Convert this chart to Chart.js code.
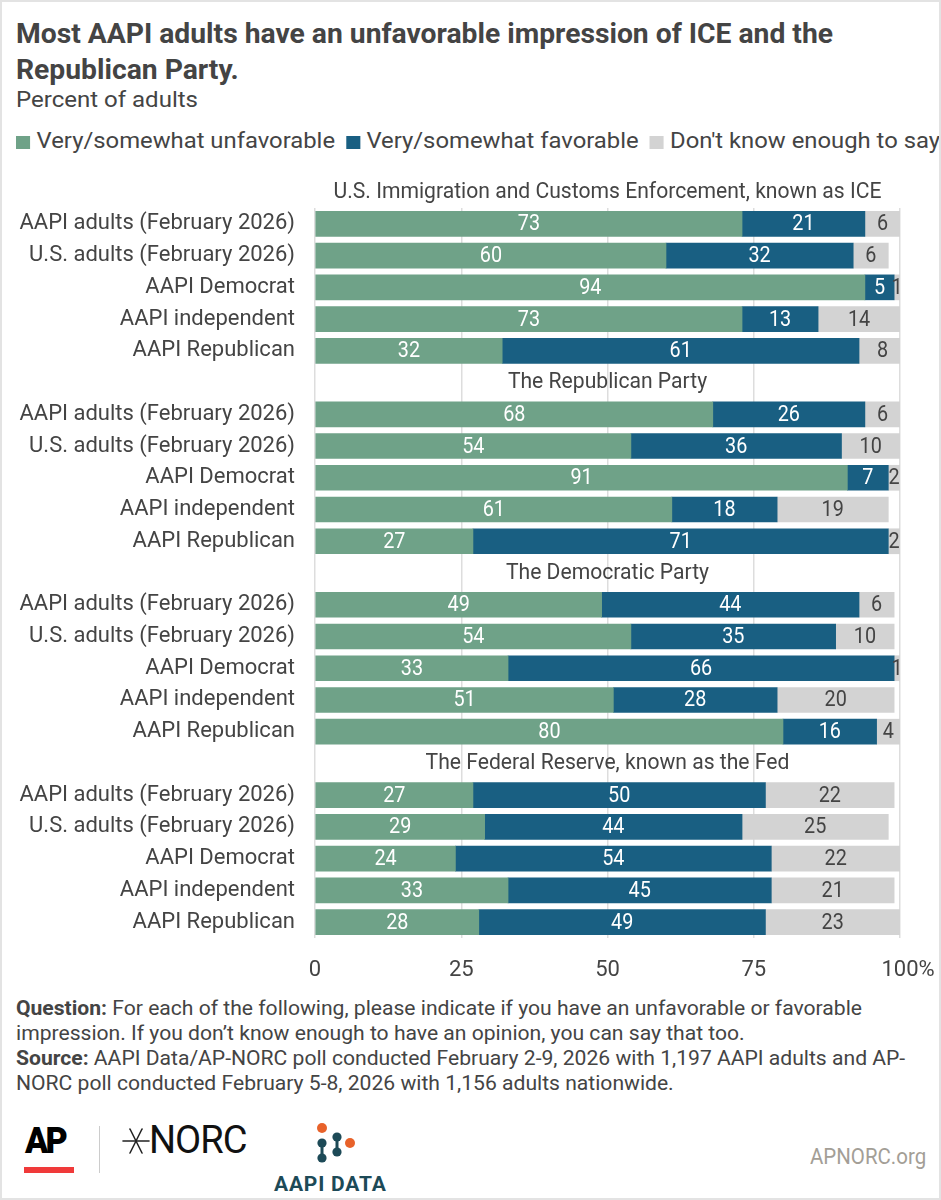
<!DOCTYPE html>
<html>
<head>
<meta charset="utf-8">
<script src="https://cdn.jsdelivr.net/npm/chart.js@4/dist/chart.umd.min.js"></script>
<style>
  html, body { margin: 0; padding: 0; background: #fff; }
  #wrap { position: relative; width: 941px; height: 1200px; overflow: hidden; background: #fff;
          box-sizing: border-box; border: 2px solid #e3e3e3; }
  .abs { position: absolute; white-space: nowrap; color: #444; font-family: Roboto, "Noto Sans", sans-serif; }
  .sc { transform-origin: 0 0; }
  #title { left: 14px; top: 14px; font-size: 27px; font-weight: 700; line-height: 36px; color: #444; }
  #subtitle { left: 14px; top: 85px; font-size: 22px; line-height: 26px; }
  #legend { left: 14px; top: 126px; font-size: 22px; line-height: 26px; }
  #legend .sw { display: inline-block; width: 13px; height: 13px; margin-right: 6px; vertical-align: -1px; }
  #legend .it { margin-left: 10px; }
  #legend .it:first-child { margin-left: 0; }
  #chartBox { position: absolute; left: 0; top: 160px; width: 941px; height: 830px; }
  #footer { left: 14px; top: 994px; font-size: 20px; line-height: 25px; }
  #footer b { font-weight: 700; }
</style>
</head>
<body>
<div id="wrap">
  <div id="title" class="abs sc" data-w="817">Most AAPI adults have an unfavorable impression of ICE and the<br>Republican Party.</div>
  <div id="subtitle" class="abs sc" data-w="182">Percent of adults</div>
  <div id="legend" class="abs sc" data-w="924"></div>
  <div id="chartBox"><canvas id="c"></canvas></div>
  <div id="footer" class="abs sc" data-w="846"><b>Question:</b> For each of the following, please indicate if you have an unfavorable or favorable<br>impression. If you don’t know enough to have an opinion, you can say that too.<br><b>Source:</b> AAPI Data/AP-NORC poll conducted February 2-9, 2026 with 1,197 AAPI adults and AP-<br>NORC poll conducted February 5-8, 2026 with 1,156 adults nationwide.</div>

  <!-- logos -->
  <div class="abs" style="left:23px;top:1120px;font-size:36px;font-weight:900;color:#000;letter-spacing:-3px;line-height:38px;transform:scaleX(0.95);transform-origin:0 0;">AP</div>
  <div style="position:absolute;left:22px;top:1165px;width:50px;height:6px;background:#f03a3a;"></div>
  <div style="position:absolute;left:97px;top:1124px;width:1px;height:47px;background:#ccc;"></div>
  <svg style="position:absolute;left:120px;top:1124px;" width="28" height="30" viewBox="0 0 28 30">
    <g stroke="#222" stroke-width="1.6" stroke-linecap="round">
      <line x1="1" y1="15" x2="27" y2="15"/>
      <line x1="8" y1="3" x2="20" y2="27"/>
      <line x1="20" y1="3" x2="8" y2="27"/>
    </g>
  </svg>
  <div class="abs" style="left:147px;top:1117px;font-size:38px;font-weight:400;color:#111;line-height:42px;letter-spacing:-1px;">NORC</div>
  <svg style="position:absolute;left:308px;top:1118px;" width="46" height="46" viewBox="0 0 46 46">
    <circle cx="12" cy="8" r="5" fill="#e8622a"/>
    <circle cx="12" cy="23" r="4.6" fill="#1d4a57"/>
    <circle cx="12" cy="38" r="4.6" fill="#1d4a57"/>
    <line x1="12" y1="23" x2="12" y2="38" stroke="#1d4a57" stroke-width="3"/>
    <circle cx="27" cy="17" r="4.6" fill="#1d4a57"/>
    <circle cx="27" cy="32" r="4.6" fill="#1d4a57"/>
    <line x1="27" y1="17" x2="27" y2="32" stroke="#1d4a57" stroke-width="3"/>
    <circle cx="40" cy="23" r="5" fill="#e8622a"/>
  </svg>
  <div class="abs" style="left:272px;top:1170px;font-size:21px;font-weight:700;color:#1d4a57;line-height:24px;letter-spacing:0.8px;">AAPI DATA</div>
  <div class="abs" style="left:808px;top:1142px;font-size:22px;color:#a39e96;line-height:26px;transform:scaleX(0.93);transform-origin:0 0;">APNORC.org</div>
</div>

<script>
// ---------------- DATA ----------------
const groupTitles = [
  "U.S. Immigration and Customs Enforcement, known as ICE",
  "The Republican Party",
  "The Democratic Party",
  "The Federal Reserve, known as the Fed"
];
const rowLabels = [
  "AAPI adults (February 2026)",
  "U.S. adults (February 2026)",
  "AAPI Democrat",
  "AAPI independent",
  "AAPI Republican"
];
const seriesNames = ["Very/somewhat unfavorable", "Very/somewhat favorable", "Don't know enough to say"];
// values listed group by group (ICE, Republican Party, Democratic Party, Fed), 5 rows each
const unfavorable = [73, 60, 94, 73, 32,  68, 54, 91, 61, 27,  49, 54, 33, 51, 80,  27, 29, 24, 33, 28];
const favorable   = [21, 32,  5, 13, 61,  26, 36,  7, 18, 71,  44, 35, 66, 28, 16,  50, 44, 54, 45, 49];
const dontKnow    = [ 6,  6,  1, 14,  8,   6, 10,  2, 19,  2,   6, 10,  1, 20,  4,  22, 25, 22, 21, 23];
const xTicks = [0, 25, 50, 75, 100];

const colors = ["#6fa288", "#195f82", "#d3d3d3"];
const labelColors = ["#ffffff", "#ffffff", "#444444"];

// ---------------- BUILD ----------------
// The first group's heading sits above the plot; later headings take a blank row.
const labels = [];
const headingRows = []; // {index, title}
const seriesRaw = [unfavorable, favorable, dontKnow];
const seriesData = [[], [], []];
groupTitles.forEach((t, g) => {
  if (g > 0) {
    headingRows.push({ index: labels.length, title: t });
    labels.push("");
    seriesData.forEach(s => s.push(null));
  } else {
    headingRows.push({ index: -1, title: t });
  }
  rowLabels.forEach((r, i) => {
    labels.push(r);
    seriesData.forEach((s, k) => s.push(seriesRaw[k][g * rowLabels.length + i]));
  });
});

// legend (HTML)
const legendEl = document.getElementById("legend");
legendEl.innerHTML = seriesNames.map((n, i) =>
  `<span class="it"><span class="sw" style="background:${colors[i]}"></span>${n}</span>`).join("");

// horizontally condense text blocks to match reference widths
document.querySelectorAll(".sc[data-w]").forEach(el => {
  const target = +el.dataset.w;
  let w;
  if (el.id === "legend") {
    w = el.getBoundingClientRect().width;
  } else {
    const tmp = document.createElement("span");
    tmp.style.whiteSpace = "nowrap";
    tmp.innerHTML = el.innerHTML.split("<br>")[0];
    tmp.style.font = getComputedStyle(el).font;
    tmp.style.position = "absolute"; tmp.style.visibility = "hidden";
    document.body.appendChild(tmp);
    w = tmp.getBoundingClientRect().width;
    tmp.remove();
  }
  if (w > 0) el.style.transform = `scaleX(${(target / w).toFixed(4)})`;
});

const FONT = "Roboto, 'Noto Sans', sans-serif";
const TICK_FONT = `22px ${FONT}`;

const headingPlugin = {
  id: "headings",
  afterDatasetsDraw(chart) {
    const { ctx, chartArea } = chart;
    const y = chart.scales.y;
    const step = y.getPixelForValue(1) - y.getPixelForValue(0);
    ctx.save();
    ctx.font = `22px ${FONT}`;
    ctx.fillStyle = "#444";
    ctx.textAlign = "center";
    ctx.textBaseline = "middle";
    const cx = (chartArea.left + chartArea.right) / 2;
    headingRows.forEach(h => {
      const py = h.index < 0 ? y.getPixelForValue(0) - step : y.getPixelForValue(h.index);
      ctx.save();
      ctx.translate(cx, py);
      ctx.scale(0.96, 1);
      ctx.fillText(h.title, 0, 0);
      ctx.restore();
    });
    ctx.restore();
  }
};

// "%" suffix placed after the last x tick (tick itself stays centred on its value)
const percentPlugin = {
  id: "percent",
  afterDraw(chart) {
    const { ctx } = chart;
    const xs = chart.scales.x;
    const items = xs._labelItems || [];
    const last = items.find(it => it.label === "100");
    if (!last) return;
    ctx.save();
    ctx.font = TICK_FONT;
    ctx.fillStyle = "#444";
    ctx.textAlign = "left";
    ctx.textBaseline = last.options.textBaseline || "middle";
    const w = ctx.measureText("100").width;
    const off = last.textOffset || 0;
    ctx.fillText("%", last.options.translation[0] + w / 2, last.options.translation[1] + off);
    ctx.restore();
  }
};

const valuePlugin = {
  id: "values",
  afterDatasetsDraw(chart) {
    const { ctx } = chart;
    ctx.save();
    ctx.font = `22px ${FONT}`;
    ctx.textAlign = "center";
    ctx.textBaseline = "middle";
    chart.data.datasets.forEach((ds, di) => {
      const meta = chart.getDatasetMeta(di);
      meta.data.forEach((el, i) => {
        const v = ds.data[i];
        if (v === null || v === undefined) return;
        const props = el.getProps(["x", "y", "base"], true);
        const cx = (props.x + props.base) / 2;
        ctx.fillStyle = labelColors[di];
        ctx.save();
        ctx.translate(cx, props.y + 1);
        ctx.scale(0.9, 1);
        ctx.fillText(String(v), 0, 0);
        ctx.restore();
      });
    });
    ctx.restore();
  }
};

new Chart(document.getElementById("c"), {
  type: "bar",
  data: {
    labels: labels,
    datasets: seriesData.map((d, i) => ({
      label: seriesNames[i],
      data: d,
      backgroundColor: colors[i],
      borderWidth: 0,
      barThickness: 25,
      categoryPercentage: 1,
      barPercentage: 1
    }))
  },
  options: {
    indexAxis: "y",
    responsive: true,
    maintainAspectRatio: false,
    animation: false,
    devicePixelRatio: 1,
    layout: { padding: { top: 46, right: 43, bottom: 0, left: 0 } },
    plugins: {
      legend: { display: false },
      tooltip: { enabled: false }
    },
    scales: {
      x: {
        stacked: true,
        min: 0, max: 100,
        afterBuildTicks(scale) { scale.ticks = xTicks.map(v => ({ value: v })); },
        afterFit(scale) { scale.height = 54; },
        border: { display: false },
        grid: { color: "#dddddd", lineWidth: 1.5, drawTicks: false },
        ticks: {
          padding: 19,
          color: "#444",
          font: { family: FONT, size: 22 },
          callback: (v) => String(v)
        }
      },
      y: {
        stacked: true,
        afterFit(scale) { scale.width = 313; },
        border: { display: false },
        grid: { display: false, drawTicks: false },
        ticks: {
          padding: 20,
          autoSkip: false,
          color: "#444",
          font: { family: FONT, size: 22 }
        }
      }
    }
  },
  plugins: [headingPlugin, valuePlugin, percentPlugin]
});
</script>
</body>
</html>
